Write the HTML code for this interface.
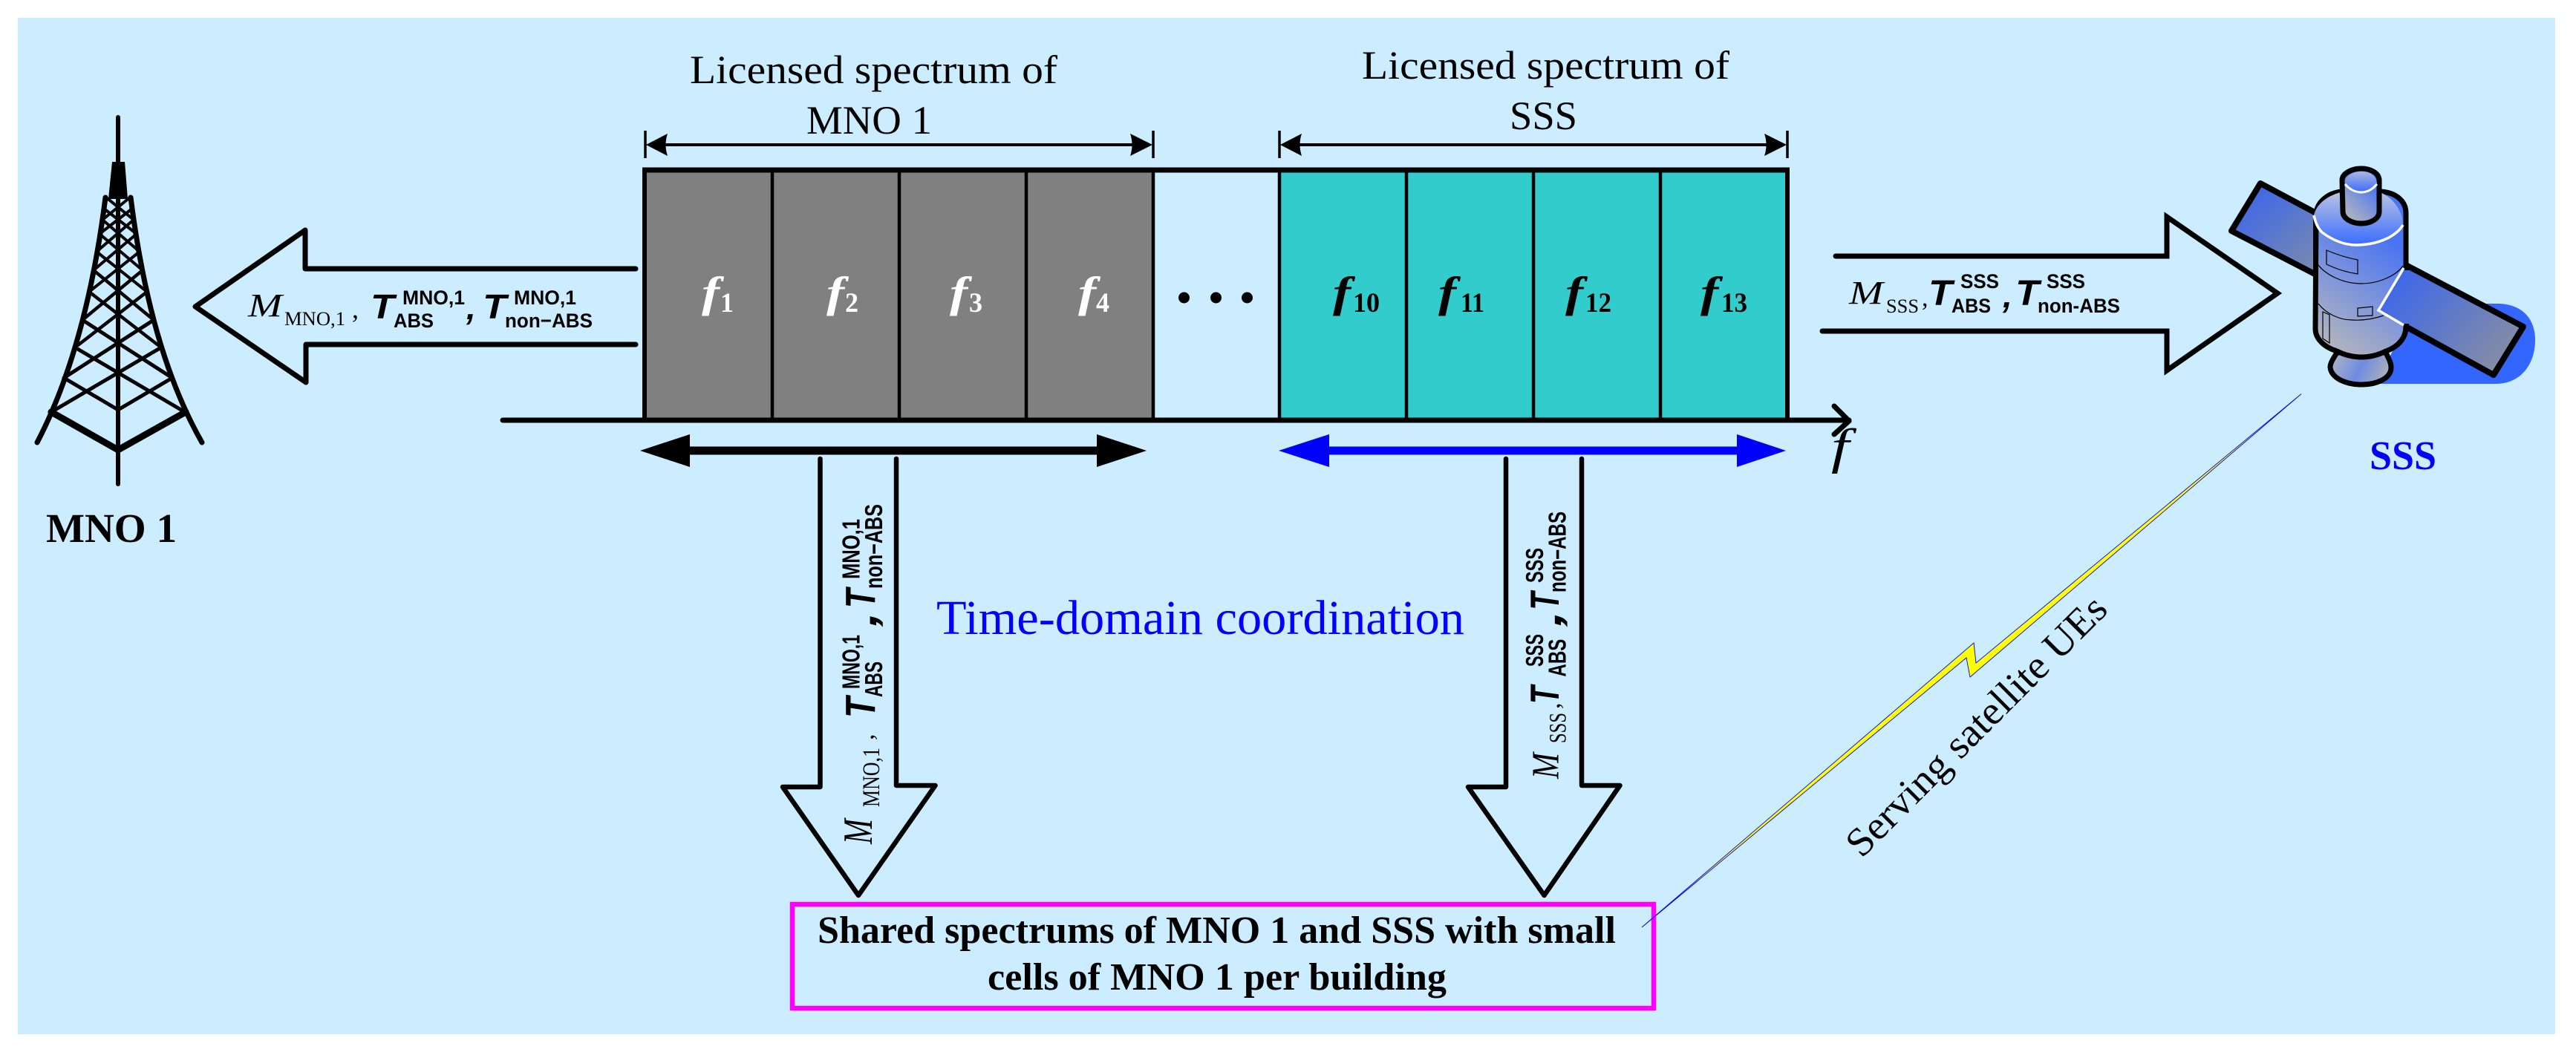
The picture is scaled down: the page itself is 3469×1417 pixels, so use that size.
<!DOCTYPE html>
<html><head><meta charset="utf-8">
<style>
html,body{margin:0;padding:0;background:#fff}
svg{display:block}
text{white-space:pre}
.s{font-family:"Liberation Serif",serif}
.a{font-family:"Liberation Sans",sans-serif}
.t{font-family:"Liberation Sans",sans-serif;font-weight:bold;font-style:italic}
.b{font-family:"Liberation Sans",sans-serif;font-weight:bold}
</style></head><body>
<svg xmlns="http://www.w3.org/2000/svg" width="3469" height="1417" viewBox="0 0 3469 1417">
<defs>
<linearGradient id="pu" gradientUnits="userSpaceOnUse" x1="3030" y1="260" x2="3117" y2="365"><stop offset="0" stop-color="#3F68E8"/><stop offset="1" stop-color="#7A8AAE"/></linearGradient>
<linearGradient id="pl" gradientUnits="userSpaceOnUse" x1="3240" y1="370" x2="3385" y2="500"><stop offset="0" stop-color="#4069E6"/><stop offset="1" stop-color="#8C919E"/></linearGradient>
<linearGradient id="bd" gradientUnits="userSpaceOnUse" x1="3236" y1="335" x2="3135" y2="480"><stop offset="0" stop-color="#4A74F2"/><stop offset="0.45" stop-color="#7D94DC"/><stop offset="1" stop-color="#B9B9B9"/></linearGradient>
<linearGradient id="cp" gradientUnits="userSpaceOnUse" x1="0" y1="258" x2="0" y2="330"><stop offset="0" stop-color="#BCC4E2"/><stop offset="1" stop-color="#3A6CFF"/></linearGradient>
<linearGradient id="nc" gradientUnits="userSpaceOnUse" x1="0" y1="230" x2="0" y2="259"><stop offset="0" stop-color="#B0B8DC"/><stop offset="1" stop-color="#3A6CFF"/></linearGradient>
<linearGradient id="ns" gradientUnits="userSpaceOnUse" x1="3205" y1="255" x2="3160" y2="298"><stop offset="0" stop-color="#4A74F2"/><stop offset="1" stop-color="#B9B9B9"/></linearGradient>
<linearGradient id="kb" gradientUnits="userSpaceOnUse" x1="3140" y1="480" x2="3215" y2="515"><stop offset="0" stop-color="#B0B4C4"/><stop offset="0.5" stop-color="#6E8CE0"/><stop offset="1" stop-color="#B4B4B4"/></linearGradient>
</defs>

<rect x="24" y="24" width="3417" height="1369" fill="#CCECFF"/>

<!-- Tower -->
<g fill="none" stroke="#000" stroke-linecap="round">
<path d="M159 158V652" stroke-width="6"/>
<path d="M142 266C125 400 95 510 50 596" stroke-width="7"/>
<path d="M176 266C193 400 223 510 272 596" stroke-width="7"/>
<path d="M69 555L159 606L250 555" stroke-width="9"/>
<path d="M69 555L217 468M249 555L101 468M86 509L159 552L232 509M86 509L207 431M232 509L111 431" stroke-width="5"/>
<path d="M101 468L198 393M217 468L120 393M111 431L192 364M207 431L126 364" stroke-width="4.5"/>
<path d="M120 393L188 339M198 393L130 339M126 364L184 315M192 364L134 315M130 339L180 296M188 339L138 296M134 315L178 281M184 315L140 281M138 296L175 266M180 296L143 266" stroke-width="4"/>
</g>
<path d="M151 218H168L172 268H146Z" fill="#000"/>
<text class="s" x="62" y="730" font-size="55" font-weight="bold" textLength="176" lengthAdjust="spacingAndGlyphs">MNO 1</text>

<!-- Left big arrow -->
<path d="M856 362H411V310L263 413L412 515V464H856" fill="none" stroke="#000" stroke-width="7" stroke-linecap="round" stroke-linejoin="round"/>
<text class="s" x="334" y="426" font-size="44" font-style="italic" textLength="46" lengthAdjust="spacingAndGlyphs">M</text>
<text class="s" x="383" y="438" font-size="26" textLength="82" lengthAdjust="spacingAndGlyphs">MNO,1</text>
<text class="s" x="474" y="428" font-size="36">,</text>
<text class="t" x="499" y="429" font-size="46" textLength="32" lengthAdjust="spacingAndGlyphs">T</text>
<text class="b" x="542" y="410" font-size="27" textLength="84" lengthAdjust="spacingAndGlyphs">MNO,1</text>
<text class="b" x="530" y="441" font-size="27" textLength="54" lengthAdjust="spacingAndGlyphs">ABS</text>
<text class="t" x="628" y="430" font-size="46">,</text>
<text class="t" x="650" y="429" font-size="46" textLength="32" lengthAdjust="spacingAndGlyphs">T</text>
<text class="b" x="692" y="410" font-size="27" textLength="84" lengthAdjust="spacingAndGlyphs">MNO,1</text>
<text class="b" x="680" y="441" font-size="27" textLength="118" lengthAdjust="spacingAndGlyphs">non−ABS</text>

<!-- Spectrum blocks -->
<rect x="868" y="229" width="685" height="337" fill="#808080"/>
<rect x="1723" y="229" width="684" height="337" fill="#33CCCC"/>
<path d="M865 229H2410" stroke="#000" stroke-width="7" fill="none"/>
<path d="M868 229V566M2407 229V566" stroke="#000" stroke-width="6" fill="none"/>
<path d="M1040 229V566M1211 229V566M1382 229V566M1553 229V566M1723 229V566M1894 229V566M2065 229V566M2236 229V566" stroke="#000" stroke-width="4.5" fill="none"/>
<path d="M677 566H2490M2470 547L2490 567L2470 585" stroke="#000" stroke-width="7" fill="none" stroke-linecap="round" stroke-linejoin="round"/>

<!-- Dimension arrows -->
<g stroke="#000" stroke-width="3.5" fill="none"><path d="M869 176V213M1553 176V213M1723 176V213M2407 176V213"/>
<path d="M875 195H1547M1729 195H2401" stroke-width="4"/></g>
<path d="M870 195L899 180Q894 195 899 210ZM1552 195L1522 180Q1527 195 1522 210ZM1724 195L1753 180Q1748 195 1753 210ZM2406 195L2376 180Q2381 195 2376 210Z" fill="#000"/>

<text class="s" x="929" y="112" font-size="54" textLength="495" lengthAdjust="spacingAndGlyphs">Licensed spectrum of</text>
<text class="s" x="1086" y="180" font-size="54" textLength="169" lengthAdjust="spacingAndGlyphs">MNO 1</text>
<text class="s" x="1834" y="106" font-size="54" textLength="495" lengthAdjust="spacingAndGlyphs">Licensed spectrum of</text>
<text class="s" x="2033" y="174" font-size="54" textLength="91" lengthAdjust="spacingAndGlyphs">SSS</text>

<!-- f labels -->
<g class="s" font-weight="bold" fill="#fff">
<text transform="translate(945,413) scale(1.25,1)" font-size="58" font-style="italic">f</text><text x="970" y="420" font-size="37" textLength="18" lengthAdjust="spacingAndGlyphs">1</text>
<text transform="translate(1113,413) scale(1.25,1)" font-size="58" font-style="italic">f</text><text x="1138" y="420" font-size="37" textLength="18" lengthAdjust="spacingAndGlyphs">2</text>
<text transform="translate(1279,413) scale(1.25,1)" font-size="58" font-style="italic">f</text><text x="1305" y="420" font-size="37" textLength="18" lengthAdjust="spacingAndGlyphs">3</text>
<text transform="translate(1452,413) scale(1.25,1)" font-size="58" font-style="italic">f</text><text x="1476" y="420" font-size="37" textLength="18" lengthAdjust="spacingAndGlyphs">4</text>
</g>
<g class="s" font-weight="bold" fill="#000">
<text transform="translate(1795,413) scale(1.25,1)" font-size="58" font-style="italic">f</text><text x="1822" y="420" font-size="37" textLength="36" lengthAdjust="spacingAndGlyphs">10</text>
<text transform="translate(1937,413) scale(1.25,1)" font-size="58" font-style="italic">f</text><text x="1967" y="420" font-size="37" textLength="32" lengthAdjust="spacingAndGlyphs">11</text>
<text transform="translate(2108,413) scale(1.25,1)" font-size="58" font-style="italic">f</text><text x="2135" y="420" font-size="37" textLength="35" lengthAdjust="spacingAndGlyphs">12</text>
<text transform="translate(2290,413) scale(1.25,1)" font-size="58" font-style="italic">f</text><text x="2318" y="420" font-size="37" textLength="35" lengthAdjust="spacingAndGlyphs">13</text>
</g>
<circle cx="1594.5" cy="401" r="7.5"/><circle cx="1637.5" cy="401" r="7.5"/><circle cx="1679.5" cy="401" r="7.5"/>
<text class="s" transform="translate(2466,624) scale(1.3,1)" font-size="67" font-style="italic">f</text>

<!-- Double arrows -->
<path d="M862 607L929 585V601.5H1477V585L1544 607L1477 629V612.5H929V629Z" fill="#000"/>
<path d="M1722 607L1790 585V601.5H2339V585L2405 607L2339 629V612.5H1790V629Z" fill="#0000FF"/>

<!-- Right big arrow -->
<path d="M2472 345H2918V292L3067 395L2918 499V446H2454" fill="none" stroke="#000" stroke-width="7" stroke-linecap="round" stroke-linejoin="miter"/>
<text class="s" x="2490" y="409" font-size="44" font-style="italic" textLength="46" lengthAdjust="spacingAndGlyphs">M</text>
<text class="s" x="2540" y="421" font-size="26" textLength="44" lengthAdjust="spacingAndGlyphs">SSS</text>
<text class="s" x="2588" y="412" font-size="34">,</text>
<text class="t" x="2597" y="411" font-size="48" textLength="32" lengthAdjust="spacingAndGlyphs">T</text>
<text class="b" x="2640" y="388" font-size="27" textLength="52" lengthAdjust="spacingAndGlyphs">SSS</text>
<text class="b" x="2628" y="421" font-size="27" textLength="53" lengthAdjust="spacingAndGlyphs">ABS</text>
<text class="t" x="2697" y="414" font-size="46">,</text>
<text class="t" x="2714" y="411" font-size="48" textLength="32" lengthAdjust="spacingAndGlyphs">T</text>
<text class="b" x="2756" y="388" font-size="27" textLength="52" lengthAdjust="spacingAndGlyphs">SSS</text>
<text class="b" x="2744" y="421" font-size="27" textLength="111" lengthAdjust="spacingAndGlyphs">non-ABS</text>

<!-- Satellite -->
<path d="M3200 517H3361C3395 517 3414 490 3414 458C3414 428 3395 409 3363 409L3340 409L3240 437Z" fill="#3366FF"/>
<path d="M3044 247L3005 311L3119 370V287Z" fill="url(#pu)" stroke="#000" stroke-width="8" stroke-linejoin="round"/>
<path d="M3240 357L3398 440L3358 505L3240 440Z" fill="url(#pl)" stroke="#000" stroke-width="8" stroke-linejoin="round"/>
<path d="M3147 475C3143 482 3138 488 3138 495C3140 510 3160 518 3180 518C3200 518 3220 510 3220 495C3220 488 3216 482 3213 475Z" fill="url(#kb)" stroke="#000" stroke-width="7" stroke-linejoin="round"/>
<path d="M3119 287C3121 270 3138 258 3157 258H3203C3225 258 3240 270 3240 287V440C3240 455 3230 467 3213 473C3203 478 3192 481 3180 481C3168 481 3157 478 3147 473C3128 467 3118 455 3118 443Z" fill="url(#bd)" stroke="#000" stroke-width="7"/>
<path d="M3116 290C3118 300 3122 308 3127 313C3142 324 3157 330 3173 330C3192 330 3207 325 3217 320C3226 315 3232 310 3236 303C3236 290 3228 268 3203 258H3157C3135 262 3119 275 3116 290Z" fill="url(#cp)"/>
<path d="M3116 290C3118 300 3122 308 3127 313C3142 324 3157 330 3173 330C3192 330 3207 325 3217 320C3226 315 3232 310 3236 303" fill="none" stroke="#fff" stroke-width="3.5"/>
<path d="M3154 243C3154 233 3168 227 3180 227C3192 227 3204 233 3204 243V285C3204 295 3192 301 3180 301C3168 301 3155 295 3155 285Z" fill="url(#ns)" stroke="#000" stroke-width="7"/>
<path d="M3158 248C3158 236 3170 231 3180 231C3190 231 3201 236 3201 248C3195 255 3188 259 3180 259C3172 259 3164 255 3158 248Z" fill="url(#nc)"/>
<path d="M3158 248C3164 255 3172 259 3180 259C3188 259 3195 255 3201 248" fill="none" stroke="#fff" stroke-width="3"/>
<path d="M3237 364L3205 418L3237 436L3244 436V364Z" fill="url(#pl)"/>
<path d="M3237 361L3203 418L3237 438" fill="none" stroke="#fff" stroke-width="3.5"/>
<g fill="none" stroke="#000" stroke-width="1.2">
<path d="M3133 337Q3154 346 3175 350V369Q3154 366 3133 356Z"/>
<path d="M3119 353C3130 370 3155 382 3180 382C3205 382 3228 370 3236 358"/>
<path d="M3122 409C3132 422 3150 431 3167 431C3183 432 3198 429 3210 425"/>
<path d="M3175 415L3195 413V425L3175 426Z"/>
<path d="M3128 420L3137 424V462L3128 456Z"/>
</g>
<text class="s" x="3191" y="632" font-size="55" font-weight="bold" fill="#0000FF" textLength="90" lengthAdjust="spacingAndGlyphs">SSS</text>

<!-- Down arrows -->
<path d="M1104.5 618V1060H1054L1156 1206L1259.5 1058H1207V618" fill="none" stroke="#000" stroke-width="6.5" stroke-linecap="round" stroke-linejoin="round"/>
<path d="M2028 618V1060H1977L2079.5 1206L2181.5 1058H2130V618" fill="none" stroke="#000" stroke-width="6.5" stroke-linecap="round" stroke-linejoin="round"/>

<!-- Labels in left down arrow -->
<text class="s" transform="translate(1174,1137) rotate(-90)" font-size="56" font-style="italic" textLength="34" lengthAdjust="spacingAndGlyphs">M</text>
<text class="s" transform="translate(1184,1087) rotate(-90)" font-size="33" textLength="80" lengthAdjust="spacingAndGlyphs">MNO,1</text>
<text class="s" transform="translate(1176,997) rotate(-90)" font-size="34">,</text>
<text class="t" transform="translate(1178,967) rotate(-90)" font-size="57" textLength="28" lengthAdjust="spacingAndGlyphs">T</text>
<text class="b" transform="translate(1157.5,928) rotate(-90)" font-size="33" textLength="73" lengthAdjust="spacingAndGlyphs">MNO,1</text>
<text class="b" transform="translate(1188,939) rotate(-90)" font-size="33" textLength="48" lengthAdjust="spacingAndGlyphs">ABS</text>
<text class="t" transform="translate(1180,844) rotate(-90)" font-size="57" textLength="20" lengthAdjust="spacingAndGlyphs">,</text>
<text class="t" transform="translate(1178,819) rotate(-90)" font-size="57" textLength="26" lengthAdjust="spacingAndGlyphs">T</text>
<text class="b" transform="translate(1157.5,780) rotate(-90)" font-size="33" textLength="81" lengthAdjust="spacingAndGlyphs">MNO,1</text>
<text class="b" transform="translate(1188,793) rotate(-90)" font-size="33" textLength="114" lengthAdjust="spacingAndGlyphs">non−ABS</text>

<!-- Labels in right down arrow -->
<text class="s" transform="translate(2098.6,1049) rotate(-90)" font-size="52" font-style="italic" textLength="35" lengthAdjust="spacingAndGlyphs">M</text>
<text class="s" transform="translate(2108.6,1001) rotate(-90)" font-size="33" textLength="41" lengthAdjust="spacingAndGlyphs">SSS</text>
<text class="s" transform="translate(2100,955) rotate(-90)" font-size="34">,</text>
<text class="t" transform="translate(2099,948) rotate(-90)" font-size="55" textLength="24" lengthAdjust="spacingAndGlyphs">T</text>
<text class="b" transform="translate(2078,898) rotate(-90)" font-size="33" textLength="44" lengthAdjust="spacingAndGlyphs">SSS</text>
<text class="b" transform="translate(2108.6,911.6) rotate(-90)" font-size="33" textLength="51" lengthAdjust="spacingAndGlyphs">ABS</text>
<text class="t" transform="translate(2102,844) rotate(-90)" font-size="55" textLength="22" lengthAdjust="spacingAndGlyphs">,</text>
<text class="t" transform="translate(2099,821.5) rotate(-90)" font-size="55" textLength="24" lengthAdjust="spacingAndGlyphs">T</text>
<text class="b" transform="translate(2078,785) rotate(-90)" font-size="33" textLength="47" lengthAdjust="spacingAndGlyphs">SSS</text>
<text class="b" transform="translate(2108.6,798) rotate(-90)" font-size="33" textLength="109" lengthAdjust="spacingAndGlyphs">non−ABS</text>

<text class="s" x="1261" y="854" font-size="66" fill="#0000FF" textLength="711" lengthAdjust="spacingAndGlyphs">Time-domain coordination</text>

<!-- Shared box -->
<rect x="1067" y="1218" width="1160" height="140" fill="none" stroke="#FF00FF" stroke-width="6.5"/>
<text class="s" x="1101" y="1270" font-size="52" font-weight="bold" textLength="1075" lengthAdjust="spacingAndGlyphs">Shared spectrums of MNO 1 and SSS with small</text>
<text class="s" x="1330" y="1333" font-size="52" font-weight="bold" textLength="618" lengthAdjust="spacingAndGlyphs">cells of MNO 1 per building</text>

<!-- Lightning -->
<path d="M3099 530.6L2661 893L2658 866L2211 1249L2648 886L2653 912Z" fill="#FFFF00" stroke="#0000FF" stroke-width="0.9" stroke-linejoin="miter"/>
<text class="s" transform="translate(2507,1157) rotate(-45)" font-size="54" textLength="472" lengthAdjust="spacingAndGlyphs">Serving satellite UEs</text>
</svg>
</body></html>
